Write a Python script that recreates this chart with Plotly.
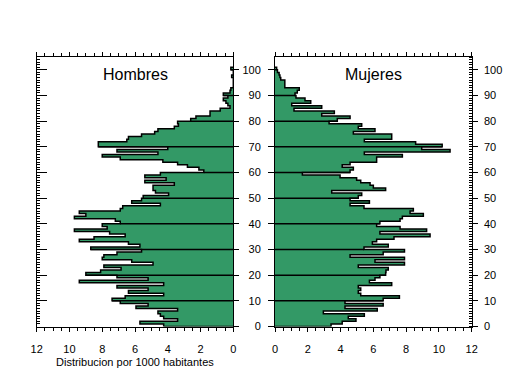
import plotly.graph_objects as go

ages = list(range(0, 101))

hombres = [4.25, 5.7, 3.4, 4.25, 4.45, 4.6, 3.4, 5.94, 5.2, 6.9,
           7.4, 6.6, 4.25, 6.4, 5.2, 7.1, 4.25, 9.4, 5.2, 7.1,
           9.0, 8.1, 6.85, 7.9, 4.9, 6.2, 8.0, 7.9, 7.1, 5.6,
           8.7, 5.7, 6.4, 9.4, 8.5, 6.6, 7.55, 9.7, 7.7, 8.0,
           6.9, 7.2, 9.7, 9.0, 9.4, 6.9, 6.75, 4.45, 6.2, 5.6,
           5.5, 3.95, 4.75, 4.9, 4.9, 3.6, 5.4, 4.1, 5.4, 4.45,
           1.8, 2.1, 2.8, 3.4, 4.3, 6.9, 8.0, 4.6, 7.1, 4.0,
           8.24, 8.24, 6.5, 6.4, 5.6, 4.8, 4.6, 3.6, 3.35, 3.4,
           2.6, 2.28, 1.42, 1.42, 0.8, 0.2, 0.33, 0.45, 0.61, 0.33,
           0.61, 0.2, 0.15, 0.0, 0.0, 0.0, 0.0, 0.1, 0.0, 0.0, 0.15]

mujeres = [3.42, 4.1, 4.94, 4.47, 5.45, 2.95, 6.24, 4.27, 6.6, 4.27,
           6.6, 7.59, 5.23, 5.08, 5.23, 5.08, 7.12, 5.76, 6.1, 6.4,
           6.75, 6.77, 6.91, 5.08, 7.9, 6.1, 7.9, 4.58, 6.6, 7.9,
           5.43, 6.91, 5.94, 6.2, 7.26, 9.46, 6.4, 9.25, 7.63, 6.2,
           6.4, 7.63, 7.77, 9.05, 8.24, 8.44, 5.43, 4.58, 5.76, 4.58,
           5.08, 5.29, 3.46, 6.75, 6.0, 5.8, 5.23, 4.98, 3.97, 1.67,
           4.58, 4.78, 4.1, 4.58, 6.2, 6.2, 7.77, 5.45, 10.68, 8.95,
           10.2, 8.58, 5.45, 7.12, 7.12, 4.78, 6.1, 5.08, 5.29, 3.3,
           3.8, 4.58, 2.85, 3.62, 1.16, 2.85, 1.02, 2.18, 1.83, 1.28,
           1.22, 1.36, 1.48, 0.6, 0.6, 0.6, 0.35, 0.3, 0.25, 0.15, 0.1]

x_ticks = [0, 2, 4, 6, 8, 10, 12]
y_ticks = list(range(0, 101, 10))

GREEN = "#339966"
FONT = "Liberation Sans, Arial, sans-serif"


def outline(vals):
    xs, ys = [0], [0]
    for a, v in zip(ages, vals):
        xs += [v, v]
        ys += [a, a + 1]
    xs.append(0)
    ys.append(ages[-1] + 1)
    return xs, ys


def decade_lines(vals):
    xs, ys = [], []
    for d in y_ticks[1:]:
        xs += [0, vals[d], None]
        ys += [d, d, None]
    return xs, ys


fig = go.Figure()

for vals, xa, ya, ya_over in [(hombres, "x", "y", "y2"), (mujeres, "x2", "y3", "y4")]:
    fig.add_trace(go.Bar(y=[a + 0.5 for a in ages], x=vals, orientation="h",
                         width=1, marker=dict(color=GREEN, line=dict(width=0)),
                         xaxis=xa, yaxis=ya, showlegend=False, hoverinfo="skip"))
    ox, oy = outline(vals)
    fig.add_trace(go.Scatter(x=ox, y=oy, mode="lines", line=dict(color="black", width=1.5),
                             xaxis=xa, yaxis=ya, showlegend=False, hoverinfo="skip"))
    dx, dy = decade_lines(vals)
    fig.add_trace(go.Scatter(x=dx, y=dy, mode="lines", line=dict(color="black", width=1.5),
                             xaxis=xa, yaxis=ya, showlegend=False, hoverinfo="skip"))
    # empty trace so the overlaid edge axis gets its own subplot and is drawn
    fig.add_trace(go.Scatter(x=[None], y=[None], mode="lines", xaxis=xa, yaxis=ya_over,
                             showlegend=False, hoverinfo="skip"))

W, H = 509, 376
xd1 = [36.7 / W, 233.3 / W]
xd2 = [275.0 / W, 471.7 / W]
yd = [(H - 326.5) / H, (H - 57.0) / H]
YR = [0, 105]

xcommon = dict(tickmode="array", tickvals=x_ticks, ticks="outside", ticklen=4,
               showline=True, linecolor="black", linewidth=1, mirror="ticks",
               showgrid=False, zeroline=False, tickcolor="black", automargin=False,
               ticklabelstandoff=8,
               minor=dict(tickmode="linear", tick0=0, dtick=0.5, ticks="outside",
                          ticklen=3, tickcolor="black", showgrid=False),
               tickfont=dict(family=FONT, size=11, color="black"))

ycommon = dict(range=YR, showgrid=False, zeroline=False, showline=True,
               linecolor="black", linewidth=1, tickcolor="black", automargin=False,
               tickmode="array", tickvals=y_ticks,
               tickfont=dict(family=FONT, size=11, color="black"))

fig.update_layout(
    width=W, height=H, margin=dict(l=0, r=0, t=0, b=0, pad=0), autosize=False,
    paper_bgcolor="white", plot_bgcolor="white", bargap=0, showlegend=False,
    xaxis=dict(domain=xd1, range=[12, 0], anchor="y", **xcommon),
    xaxis2=dict(domain=xd2, range=[0, 12], anchor="y3", **xcommon),
    yaxis=dict(domain=yd, anchor="x", side="left", ticks="inside", ticklen=10,
               showticklabels=False,
               minor=dict(tickmode="linear", tick0=0, dtick=1, ticks="inside",
                          ticklen=3, tickcolor="black", showgrid=False),
               **ycommon),
    yaxis2=dict(domain=yd, anchor="x", overlaying="y", side="right",
                ticks="outside", ticklen=5, showticklabels=False, **ycommon),
    yaxis3=dict(domain=yd, anchor="x2", side="left", ticks="outside", ticklen=6,
                ticklabelstandoff=5, **ycommon),
    yaxis4=dict(domain=yd, anchor="x2", overlaying="y3", side="right",
                ticks="outside", ticklen=5, ticklabelstandoff=4,
                minor=dict(tickmode="linear", tick0=0, dtick=1, ticks="inside",
                           ticklen=3, tickcolor="black", showgrid=False),
                **ycommon),
    annotations=[
        dict(text="Hombres", xref="x domain", x=0.5, yref="y", y=98,
             showarrow=False, font=dict(family=FONT, size=16, color="black")),
        dict(text="Mujeres", xref="x2 domain", x=0.5, yref="y3", y=98,
             showarrow=False, font=dict(family=FONT, size=16, color="black")),
        dict(text="Distribucion por 1000 habitantes", xref="x domain", x=0.5,
             yref="paper", y=(H - 362) / H, yanchor="middle", showarrow=False,
             font=dict(family=FONT, size=11, color="black")),
    ],
)

fig.write_html(
    "out.html",
    config={"responsive": False, "displayModeBar": False},
    post_script="document.body.style.margin='0';document.body.style.overflow='hidden';",
)
